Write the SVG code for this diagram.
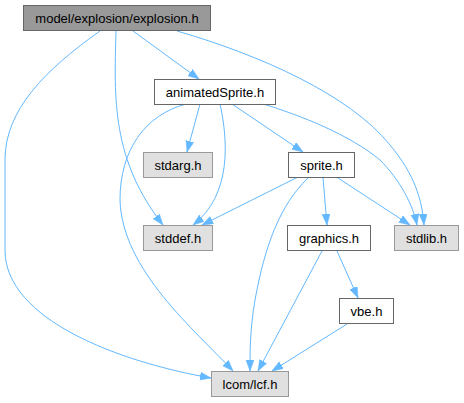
<svg xmlns="http://www.w3.org/2000/svg" width="464" height="403" viewBox="0 0 464 403">
<style>
.e{fill:none;stroke:#63b8ff;stroke-width:1;marker-end:url(#a)}
.n rect{stroke-width:1}
.main rect{fill:#999999;stroke:#666666}
.ext rect{fill:#e0e0e0;stroke:#999999}
.loc rect{fill:#ffffff;stroke:#666666}
text{font-family:"Liberation Sans",Arial,sans-serif;font-size:13px;fill:#000;text-anchor:middle}
</style>
<defs>
<marker id="a" markerUnits="userSpaceOnUse" markerWidth="12" markerHeight="9" refX="11" refY="4" orient="auto">
<path d="M0,0 L11,4 L0,8 z" fill="#63b8ff" stroke="#63b8ff" stroke-width="0.5"/>
</marker>
</defs>
<g id="connectors">
<path class="e" d="M100,31 C45,70 5,110 5,160 L5,250 C5,320 120,362 211,378"/>
<path class="e" d="M116,31 C114,100 112,160 163,225"/>
<path class="e" d="M133,31 L199,79"/>
<path class="e" d="M177,31 C260,55 350,95 390,145 C415,175 422,200 424,225"/>
<path class="e" d="M263,104 C300,115 350,135 380,160 C400,180 413,205 417,225"/>
<path class="e" d="M200,104 L187,152"/>
<path class="e" d="M220,104 C228,140 232,195 193,225"/>
<path class="e" d="M186,104 C145,115 120,150 120,200 C122,270 195,330 233,371"/>
<path class="e" d="M232,104 L303,152"/>
<path class="e" d="M298,177 L202,225"/>
<path class="e" d="M308,178 C280,205 265,245 255,300 C250,330 250,350 250,371"/>
<path class="e" d="M323,178 L327,225"/>
<path class="e" d="M338,178 L410,225"/>
<path class="e" d="M322,251 L258,371"/>
<path class="e" d="M337,251 L358,298"/>
<path class="e" d="M347,324 L272,371"/>
</g>
<g id="explosion" class="n main"><rect x="23.5" y="5.5" width="187" height="25"/><text x="117" y="22.5">model/explosion/explosion.h</text></g>
<g id="animatedSprite" class="n loc"><rect x="154.5" y="79.5" width="121" height="25"/><text x="215" y="96.5">animatedSprite.h</text></g>
<g id="stdarg" class="n ext"><rect x="143.5" y="152.5" width="69" height="25"/><text x="178" y="169.5">stdarg.h</text></g>
<g id="sprite" class="n loc"><rect x="288.5" y="152.5" width="66" height="25"/><text x="321.5" y="169.5">sprite.h</text></g>
<g id="stddef" class="n ext"><rect x="143.5" y="225.5" width="69" height="25"/><text x="178" y="242.5">stddef.h</text></g>
<g id="graphics" class="n loc"><rect x="287.5" y="225.5" width="83" height="25"/><text x="329" y="242.5">graphics.h</text></g>
<g id="stdlib" class="n ext"><rect x="394.5" y="225.5" width="64" height="25"/><text x="426.5" y="242.5">stdlib.h</text></g>
<g id="vbe" class="n loc"><rect x="339.5" y="298.5" width="54" height="25"/><text x="366.5" y="315.5">vbe.h</text></g>
<g id="lcf" class="n ext"><rect x="211.5" y="371.5" width="77" height="25"/><text x="250" y="388.5">lcom/lcf.h</text></g>
</svg>
